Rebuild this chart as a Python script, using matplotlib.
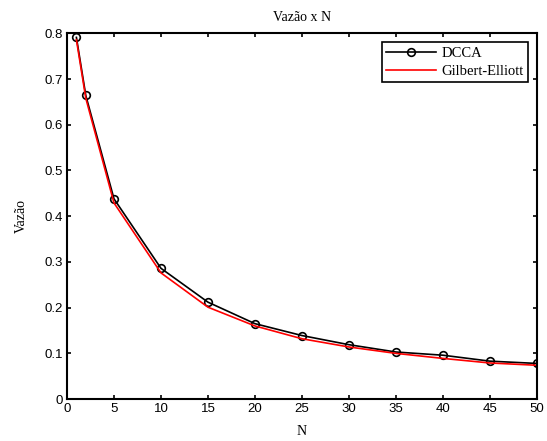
import matplotlib
matplotlib.use('Agg')
import matplotlib.pyplot as plt

n = [1, 2, 5, 10, 15, 20, 25, 30, 35, 40, 45, 50]
dcca = [0.791, 0.664, 0.438, 0.286, 0.212, 0.165, 0.139, 0.119, 0.103, 0.096, 0.083, 0.078]
gilbert = [0.786, 0.658, 0.429, 0.276, 0.201, 0.160, 0.132, 0.114, 0.100, 0.089, 0.079, 0.074]

xticks = list(range(0, 55, 5))
yticks = [0, 0.1, 0.2, 0.3, 0.4, 0.5, 0.6, 0.7, 0.8]
yticklabels = ['0', '0.1', '0.2', '0.3', '0.4', '0.5', '0.6', '0.7', '0.8']

serif = ['Liberation Serif', 'DejaVu Serif']
sans = ['Liberation Sans', 'DejaVu Sans']

fig = plt.figure(figsize=(5.47, 4.41), dpi=100)
ax = fig.add_axes([0.1225, 0.095, 0.859, 0.8295])

ax.plot(n, dcca, '-', color='black', lw=1.2, marker='o', ms=5.5,
        mfc='none', mec='black', mew=1.2, label='DCCA')
ax.plot(n, gilbert, '-', color='red', lw=1.2, label='Gilbert-Elliott')

ax.set_xlim(0, 50)
ax.set_ylim(0, 0.8)
ax.set_xticks(xticks)
ax.set_yticks(yticks)
ax.set_yticklabels(yticklabels)
ax.tick_params(direction='in', top=True, right=True, length=3, width=1.2,
               labelsize=9.5, pad=3)
for lbl in ax.get_xticklabels() + ax.get_yticklabels():
    lbl.set_family(sans)
for sp in ax.spines.values():
    sp.set_linewidth(1.5)

ax.set_title('Vazão x N', fontsize=10, family=serif, pad=9)
ax.set_xlabel('N', fontsize=10, family=serif, labelpad=7)
ax.set_ylabel('Vazão', fontsize=10, family=serif, labelpad=12)

leg = ax.legend(loc='upper right', prop={'family': serif, 'size': 10.5},
                fancybox=False, framealpha=1, edgecolor='black',
                borderaxespad=0.6, handlelength=3.4, borderpad=0.3,
                labelspacing=0.35, handletextpad=0.4)
leg.get_frame().set_linewidth(1.2)

fig.savefig('out.png', dpi=100)
